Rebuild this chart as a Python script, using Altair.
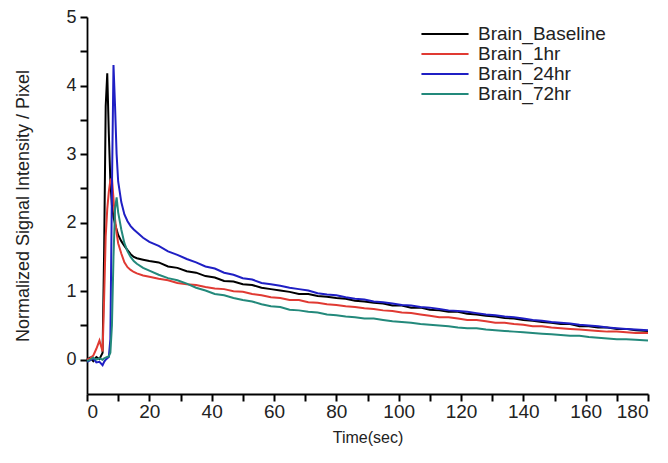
import altair as alt
import pandas as pd

# ---- data ----
time_early = [0, 1, 2, 3, 4, 5, 5.5, 6, 6.5, 7, 7.5, 8, 8.5, 9, 9.5, 10, 11, 12, 13, 14, 15, 16, 18, 20]
time_late = [23, 26, 29, 32, 35, 38, 41, 44, 47, 50, 53, 56, 59, 62, 65, 68, 71, 74, 77, 80,
             83, 86, 89, 92, 95, 98, 101, 104, 107, 110, 113, 116, 119, 122, 125, 128, 131, 134,
             137, 140, 143, 146, 149, 152, 155, 158, 161, 164, 167, 170, 173, 176, 180]
time = time_early + time_late

baseline = [0.00, 0.03, -0.02, 0.04, 0.01, 0.10, 1.60, 3.70, 4.18, 3.30, 2.60, 2.25, 2.08, 1.98, 1.90, 1.82,
            1.73, 1.66, 1.60, 1.54, 1.50, 1.48, 1.46, 1.44,
            1.42, 1.36, 1.34, 1.29, 1.27, 1.22, 1.20, 1.15, 1.14, 1.10, 1.09, 1.05, 1.03, 1.01, 0.99,
            0.96, 0.96, 0.93, 0.92, 0.90, 0.89, 0.86, 0.85, 0.83, 0.82, 0.79, 0.79, 0.76, 0.76, 0.73,
            0.72, 0.70, 0.70, 0.67, 0.66, 0.64, 0.63, 0.61, 0.60, 0.58, 0.57, 0.55, 0.54, 0.52, 0.52,
            0.49, 0.49, 0.47, 0.47, 0.45, 0.45, 0.43, 0.42]

hr1 = [0.00, 0.02, 0.06, 0.16, 0.28, 0.12, 0.90, 1.80, 2.20, 2.45, 2.62, 2.65, 2.35, 2.05, 1.85, 1.70,
       1.55, 1.42, 1.35, 1.31, 1.28, 1.26, 1.23, 1.21,
       1.18, 1.16, 1.12, 1.10, 1.09, 1.06, 1.04, 1.03, 1.00, 0.99, 0.96, 0.94, 0.91, 0.90, 0.87,
       0.87, 0.84, 0.83, 0.81, 0.80, 0.78, 0.77, 0.75, 0.74, 0.72, 0.71, 0.69, 0.68, 0.66, 0.64,
       0.62, 0.62, 0.60, 0.58, 0.58, 0.56, 0.54, 0.54, 0.52, 0.51, 0.49, 0.49, 0.47, 0.46, 0.45,
       0.44, 0.43, 0.42, 0.41, 0.41, 0.40, 0.39, 0.39]

hr24 = [-0.03, -0.01, 0.02, -0.04, -0.03, -0.08, -0.03, 0.00, 0.02, 0.04, 0.30, 2.50, 4.30, 3.70, 3.00, 2.60,
        2.30, 2.12, 2.02, 1.95, 1.90, 1.86, 1.78, 1.72,
        1.66, 1.58, 1.53, 1.47, 1.42, 1.36, 1.33, 1.27, 1.24, 1.19, 1.17, 1.12, 1.10, 1.08, 1.05,
        1.03, 1.01, 0.97, 0.95, 0.94, 0.91, 0.89, 0.88, 0.85, 0.84, 0.82, 0.80, 0.79, 0.77, 0.76,
        0.74, 0.72, 0.71, 0.70, 0.68, 0.66, 0.65, 0.63, 0.62, 0.60, 0.58, 0.57, 0.55, 0.54, 0.53,
        0.51, 0.50, 0.49, 0.47, 0.46, 0.45, 0.44, 0.43]

hr72 = [-0.02, 0.00, 0.03, 0.00, 0.02, 0.00, 0.02, 0.03, 0.04, 0.05, 0.10, 0.50, 1.50, 2.20, 2.37, 2.15,
        1.90, 1.70, 1.58, 1.50, 1.44, 1.40, 1.34, 1.30,
        1.24, 1.19, 1.16, 1.11, 1.05, 1.01, 0.96, 0.94, 0.90, 0.87, 0.85, 0.81, 0.78, 0.77, 0.73,
        0.72, 0.70, 0.69, 0.66, 0.65, 0.63, 0.62, 0.60, 0.60, 0.58, 0.56, 0.55, 0.54, 0.52, 0.51,
        0.50, 0.49, 0.47, 0.46, 0.46, 0.44, 0.43, 0.42, 0.41, 0.40, 0.39, 0.38, 0.37, 0.36, 0.35,
        0.35, 0.33, 0.32, 0.31, 0.30, 0.30, 0.29, 0.28]

series_names = ["Brain_Baseline", "Brain_1hr", "Brain_24hr", "Brain_72hr"]
series_colors = ["#000000", "#e03a33", "#1f1fc4", "#23897b"]

x_ticks = list(range(0, 181, 10))
y_ticks = [0, 0.5, 1, 1.5, 2, 2.5, 3, 3.5, 4, 4.5, 5]

rows = []
for i, (name, vals) in enumerate(zip(series_names, [baseline, hr1, hr24, hr72])):
    assert len(vals) == len(time), name
    for t, v in zip(time, vals):
        rows.append({"series": name, "t": t, "v": v, "k": i})
df = pd.DataFrame(rows)

FONT = "Liberation Sans"

chart = alt.Chart(df).mark_line(strokeWidth=2).encode(
    x=alt.X(
        "t:Q",
        scale=alt.Scale(domain=[0, 180], nice=False, zero=False),
        axis=alt.Axis(
            values=x_ticks,
            title="Time(sec)",
            labelExpr="datum.value % 20 === 0 ? format(datum.value, 'd') : ''",
            ticks=True,
            tickSize=7,
            tickWidth=2,
            tickColor="#000000",
            tickOpacity=1,
            labelPadding=1,
            titlePadding=8,
            titleFontSize=16,
        ),
    ),
    y=alt.Y(
        "v:Q",
        scale=alt.Scale(domain=[-0.5, 5], nice=False, zero=False),
        axis=alt.Axis(
            values=y_ticks,
            title="Normalized Signal Intensity / Pixel",
            labelExpr="datum.value % 1 === 0 ? format(datum.value, 'd') : ''",
            ticks=True,
            tickSize=7,
            tickWidth=2,
            tickColor="#000000",
            tickOpacity=1,
            labelPadding=4,
            labelFontSize=18,
            titlePadding=33,
            titleFontSize=18,
        ),
    ),
    color=alt.Color(
        "series:N",
        scale=alt.Scale(domain=series_names, range=series_colors),
        legend=alt.Legend(
            orient="none",
            legendX=348,
            legendY=7,
            title=None,
            symbolType="M-2.72,0L2.72,0",
            symbolSize=300,
            symbolStrokeWidth=2,
            labelFontSize=19,
            labelFont=FONT,
            labelColor="#222222",
            labelOffset=23,
            rowPadding=0,
            padding=0,
        ),
    ),
    order=alt.Order("t:Q"),
    detail="k:Q",
).properties(
    width=561,
    height=377,
    padding={"left": 79, "top": 9, "right": 12, "bottom": 60},
    autosize=alt.AutoSizeParams(type="none"),
).configure_view(
    stroke=None
).configure_axis(
    grid=False,
    domainColor="#000000",
    domainWidth=1.8,
    labelFont=FONT,
    labelFontSize=19,
    labelColor="#222222",
    titleFont=FONT,
    titleFontWeight="normal",
    titleColor="#222222",
)

chart.save("out.html", embed_options={"renderer": "svg", "actions": False})
